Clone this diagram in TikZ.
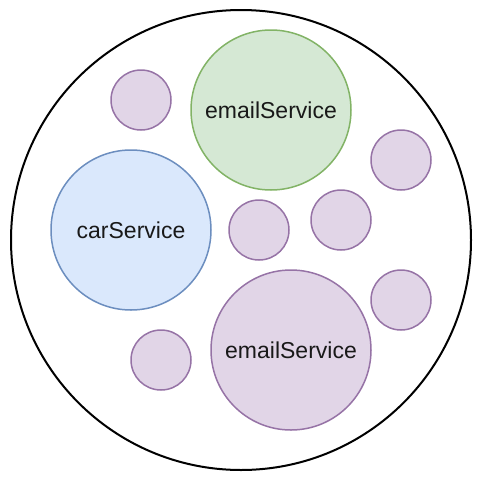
\documentclass[tikz,border=0pt]{standalone}
\usepackage{fontspec}
\setmainfont{Liberation Sans}
\usetikzlibrary{positioning}
\definecolor{greenFill}{HTML}{D5E8D4}
\definecolor{greenLine}{HTML}{82B366}
\definecolor{blueFill}{HTML}{DAE8FC}
\definecolor{blueLine}{HTML}{6C8EBF}
\definecolor{purpleFill}{HTML}{E1D5E7}
\definecolor{purpleLine}{HTML}{9673A6}

\begin{document}
\begin{tikzpicture}[x=1pt,y=-1pt,
      service/.style={circle,minimum size=160pt,inner sep=0pt,line width=1.5pt,
        text=black!90,font=\fontsize{23}{27}\selectfont},
      pod/.style={circle,minimum size=60pt,inner sep=0pt,line width=1.5pt,
        draw=purpleLine,fill=purpleFill}]
    \useasboundingbox (0,0) rectangle (484,482);

    % Enveloppe commune.
    \node[circle,minimum size=460pt,inner sep=0pt,draw=black,line width=2pt] (cluster) at (241,240) {};

    % Grands services.
    \node[service,draw=greenLine,fill=greenFill] (email) at (271,110) {emailService};
    \node[service,draw=blueLine,fill=blueFill] (car) at (131,230) {carService};
    \node[service,draw=purpleLine,fill=purpleFill] (emailB) at (291,350) {emailService};

    % Petites instances.
    \node[pod] (podA) at (141,100) {};
    \node[pod] (podB) at (401,160) {};
    \node[pod] (podC) at (259,230) {};
    \node[pod] (podD) at (341,220) {};
    \node[pod] (podE) at (401,300) {};
    \node[pod] (podF) at (161,360) {};
  \end{tikzpicture}
\end{document}
